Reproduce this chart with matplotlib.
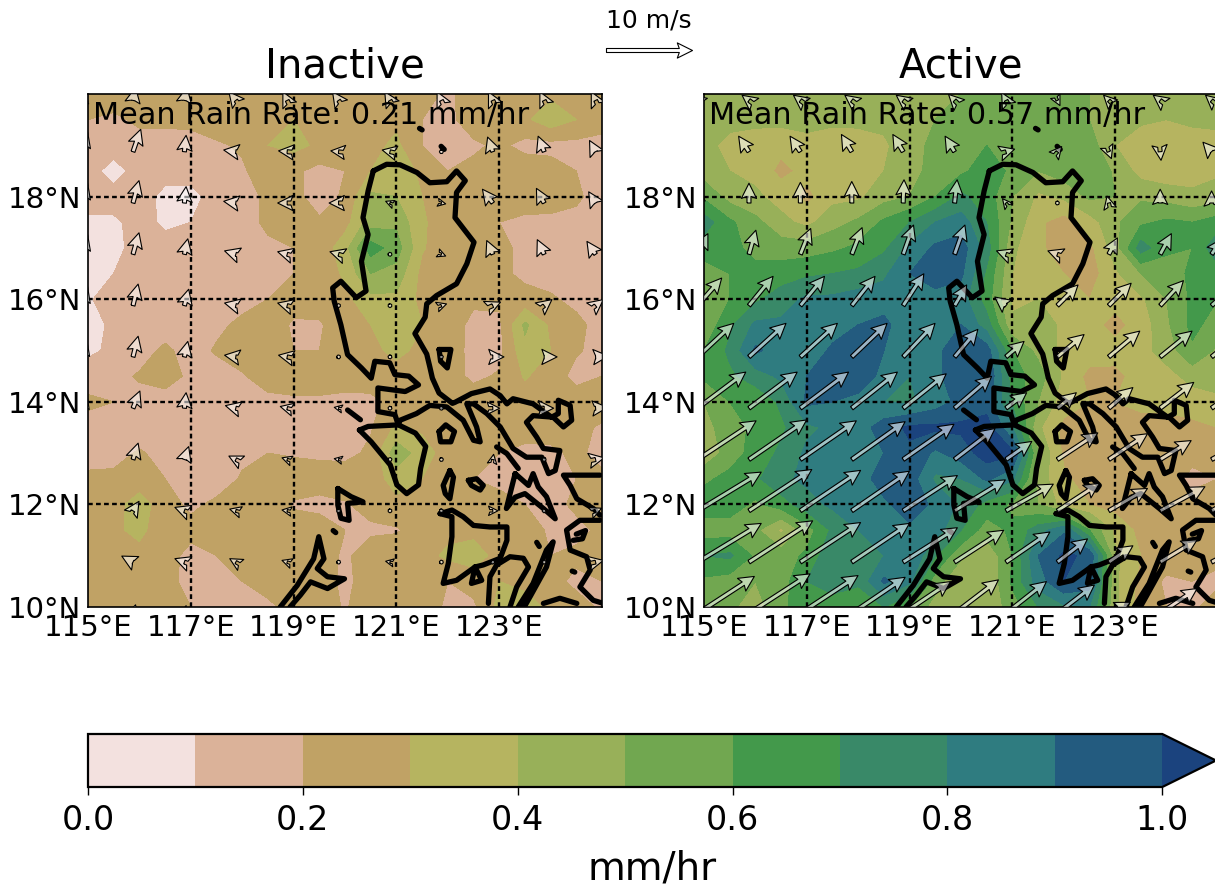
import numpy as np
import matplotlib
matplotlib.use("Agg")
import matplotlib.pyplot as plt

W, H = 1215, 888
lon_r = np.arange(115, 125.01, 0.5)
lat_r = np.arange(20, 9.99, -0.5)
levels = np.arange(0, 1.01, 0.1)
colors = ['#F3E1DF', '#DBB299', '#C0A265', '#B6B460', '#98B059', '#71A750',
          '#43994B', '#398968', '#2F7C80', '#235B7F', '#1B437E']

inactive = [
 [.22,.25,.25,.25,.25,.25,.25,.25,.25,.25,.25,.25,.25,.24,.18,.25,.25,.25,.28,.26,.25],
 [.2,.18,.22,.22,.22,.24,.26,.28,.3,.27,.25,.27,.28,.2,.17,.26,.27,.28,.36,.3,.25],
 [.17,.16,.16,.16,.17,.19,.21,.3,.33,.28,.24,.27,.32,.2,.15,.18,.22,.17,.17,.17,.16],
 [.15,.05,.15,.14,.15,.15,.19,.24,.22,.17,.2,.3,.38,.27,.2,.23,.25,.26,.24,.2,.17],
 [.15,.15,.15,.07,.06,.15,.16,.22,.22,.17,.21,.42,.4,.3,.2,.22,.25,.29,.3,.23,.12],
 [.08,.08,.14,.08,.1,.15,.16,.22,.25,.21,.26,.45,.48,.31,.26,.25,.2,.16,.15,.15,.1],
 [.07,.07,.14,.14,.15,.15,.16,.18,.2,.23,.36,.65,.55,.31,.24,.25,.22,.18,.15,.15,.15],
 [.08,.1,.15,.15,.15,.15,.16,.18,.2,.22,.32,.5,.46,.27,.24,.23,.22,.18,.17,.16,.15],
 [.09,.14,.15,.15,.15,.16,.17,.2,.23,.24,.27,.37,.38,.27,.24,.22,.22,.23,.21,.18,.15],
 [.08,.11,.15,.15,.17,.18,.22,.24,.19,.19,.25,.3,.36,.3,.26,.17,.18,.42,.28,.22,.17],
 [.08,.12,.16,.22,.16,.21,.25,.27,.2,.2,.25,.27,.33,.27,.25,.17,.17,.37,.3,.21,.17],
 [.15,.17,.21,.24,.18,.16,.19,.25,.26,.26,.25,.24,.25,.26,.24,.18,.21,.31,.25,.17,.2],
 [.22,.2,.17,.16,.15,.15,.15,.17,.18,.18,.17,.18,.23,.24,.25,.25,.25,.25,.25,.25,.24],
 [.16,.15,.15,.15,.12,.15,.15,.15,.15,.15,.15,.19,.32,.28,.25,.25,.25,.25,.24,.22,.19],
 [.16,.17,.21,.17,.15,.15,.18,.2,.19,.18,.17,.22,.46,.35,.25,.24,.2,.17,.18,.22,.17],
 [.22,.22,.24,.2,.15,.15,.21,.25,.25,.25,.26,.24,.35,.3,.25,.2,.17,.15,.15,.2,.22],
 [.2,.26,.35,.24,.18,.22,.25,.26,.19,.17,.19,.24,.27,.25,.23,.25,.24,.2,.15,.23,.3],
 [.2,.27,.34,.2,.23,.26,.27,.24,.24,.25,.2,.18,.19,.24,.27,.27,.26,.26,.18,.16,.23],
 [.24,.28,.25,.24,.17,.2,.28,.26,.25,.26,.18,.26,.26,.26,.32,.35,.26,.26,.2,.23,.26],
 [.25,.25,.26,.25,.15,.16,.2,.26,.22,.26,.17,.26,.26,.25,.2,.24,.3,.26,.24,.17,.2],
 [.25,.25,.26,.25,.2,.16,.16,.17,.25,.25,.19,.26,.3,.26,.18,.18,.33,.36,.27,.25,.18],
]
active = [
 [.45,.44,.45,.45,.45,.47,.46,.45,.46,.5,.5,.5,.53,.55,.55,.5,.46,.46,.48,.46,.42],
 [.44,.42,.42,.43,.44,.42,.42,.43,.44,.5,.55,.58,.57,.55,.52,.5,.46,.42,.4,.42,.42],
 [.42,.38,.36,.33,.36,.35,.36,.38,.47,.52,.56,.6,.55,.56,.58,.55,.4,.33,.32,.35,.37],
 [.45,.4,.37,.27,.33,.37,.37,.4,.47,.53,.58,.65,.58,.5,.55,.6,.48,.36,.33,.36,.38],
 [.58,.46,.42,.36,.27,.37,.38,.46,.5,.6,.72,.65,.5,.38,.42,.52,.5,.48,.46,.42,.45],
 [.75,.62,.53,.43,.37,.46,.52,.62,.7,.8,.85,.7,.48,.32,.25,.35,.48,.58,.62,.6,.65],
 [.65,.62,.58,.55,.55,.58,.62,.68,.82,.92,.95,.75,.42,.32,.25,.27,.45,.75,.62,.6,.78],
 [.55,.6,.62,.65,.68,.7,.72,.78,.9,.97,.92,.68,.4,.33,.3,.25,.38,.5,.55,.62,.65],
 [.55,.6,.68,.75,.82,.82,.85,.85,.85,.85,.85,.65,.38,.4,.35,.3,.33,.38,.5,.62,.6],
 [.52,.68,.82,.82,.82,.85,.9,.93,.82,.82,.9,.75,.42,.45,.38,.33,.27,.34,.48,.63,.55],
 [.6,.72,.92,.85,.83,.92,.93,.9,.8,.88,.95,.95,.6,.47,.37,.35,.33,.36,.45,.58,.48],
 [.62,.68,.75,.82,.9,.98,1.0,.85,.8,.87,.98,1.0,.65,.55,.38,.27,.28,.33,.36,.44,.44],
 [.5,.6,.62,.72,.92,.9,.85,.8,.78,.85,.93,.95,.68,.5,.35,.3,.3,.32,.33,.34,.38],
 [.46,.56,.62,.68,.78,.82,.85,.95,1.02,1.02,1.02,1.05,.8,.42,.27,.25,.25,.27,.26,.28,.3],
 [.42,.55,.64,.72,.82,.85,.83,.9,.98,.88,.95,1.05,1.02,.5,.28,.25,.26,.27,.26,.25,.25],
 [.58,.63,.68,.78,.82,.85,.85,.95,.95,.78,.8,.92,.82,.45,.32,.25,.26,.27,.26,.16,.2],
 [.65,.65,.58,.65,.76,.82,.85,.88,.95,.88,.78,.66,.58,.5,.36,.3,.26,.25,.25,.25,.25],
 [.55,.55,.52,.38,.55,.72,.8,.82,.88,.85,.7,.55,.62,.75,.88,.6,.37,.27,.25,.26,.25],
 [.7,.72,.58,.55,.62,.78,.72,.8,.9,.7,.52,.42,.6,.9,1.02,.98,.42,.3,.26,.25,.22],
 [.58,.55,.5,.55,.7,.75,.72,.92,.82,.55,.4,.4,.62,.85,1.0,.95,.42,.27,.18,.2,.18],
 [.6,.52,.45,.58,.65,.65,.62,.7,.6,.45,.42,.42,.55,.7,.78,.8,.42,.25,.2,.18,.25],
]

lon_w = np.arange(114.875, 124.9, 1.0)
lat_w = np.arange(19.875, 9.8, -1.0)
u_inactive = [
 [.3,.3,.3,-.8,-.5,-.7,-.6,-.5,-.5,-.5,-.5],
 [.7,.9,.2,-1.4,-1,-.9,-.9,.2,-.6,-.7,-.7],
 [.7,.7,.2,-1.4,-1.1,-1.1,-.5,.5,-1.2,-.9,-.8],
 [.7,.7,.4,-1.3,-1.1,-1,-.3,.5,-.7,-.8,-1],
 [.7,.6,.5,-1.3,-1.1,-.2,0,.6,.9,.9,.9],
 [.6,.6,.4,-1.3,-1,-.4,.1,.1,1.3,1.5,1.5],
 [.6,.8,.2,-1.2,-.8,-.5,.1,.1,.8,1.1,1.4],
 [.5,.6,.5,-.8,-.6,-.5,-.1,.1,.1,.1,1],
 [.3,.7,-1.1,-.7,-.6,0,0,0,.6,.3,.7],
 [0,-1.3,-1.1,-.7,-.6,-.4,-.5,-.3,0,-.2,.9],
 [0,.3,.2,.1,0,0,0,0,0,0,.2],
]
v_inactive = [
 [1.5,1.5,1.5,1,1,1,1,1,1,1,1],
 [2.3,2.6,1.9,.2,.1,.1,.2,.4,1.7,1.8,1.3],
 [2.3,2.6,1.9,.2,0,0,.2,-.1,1.6,1.7,1.3],
 [2.3,2.5,1.8,.4,.3,.3,.1,-.2,1.6,1.7,1.5],
 [2.2,2.5,1.9,.3,.3,.1,.1,.2,.4,.7,.7],
 [2,2.4,1.8,.2,.2,.1,.1,.3,0,0,.1],
 [1.8,2,1.8,.3,.2,.1,.1,.1,0,0,.1],
 [1.2,1.9,1.5,.4,.2,.1,.1,.3,.6,.1,.2],
 [.8,1.1,.4,.2,.1,.1,.05,.1,0,.1,.3],
 [.5,.7,.4,.4,.2,.1,.1,.1,.1,.2,.2],
 [.5,1,.9,.5,.2,.1,.1,.1,.1,.1,.2],
]
u_active = [
 [-.8,-.8,-.8,-.8,-.8,-.7,-.5,.3,-.6,-.8,-.7],
 [-1.2,-1.2,-1.2,-1.2,-1.2,-1.1,1,.5,.3,.1,-1],
 [0,0,0,0,.1,.3,-.4,.1,-.2,0,0],
 [1.2,.8,1.2,1.2,1.2,1.2,-1.1,-1.1,1,1.3,1.2],
 [2.8,2.8,2.8,2.7,2.4,1.4,-1.3,2.4,2.6,2.7,2.5],
 [4.2,4.3,4.3,4.1,3.7,2.7,2.1,3.1,3.6,3.7,3.2],
 [5.6,5.6,5.6,5.3,5,4.3,2.4,2.2,2.8,3.9,3.5],
 [6.8,6.7,6.5,6.2,5.9,4.7,3,4.7,4.5,3.6,3],
 [7.4,7.3,7,6.7,6.3,5.9,5.5,4.9,4.5,5.2,4.5],
 [7.4,7.4,7,6.7,6.3,5.7,5.1,3.5,2.8,4.3,3.9],
 [6.6,7.1,6.7,6.2,5.5,5.1,4.7,4.3,2.5,4.3,4],
]
v_active = [
 [.6,.6,.6,.6,.6,.7,.9,-.6,.6,.6,.6],
 [1.8,1.8,1.8,2,2,1.8,.3,.6,-.8,-1,1.1],
 [2,2.3,2.4,2.5,2.7,2.7,.5,.4,.8,1.6,1.4],
 [2.4,2.8,3,3.1,3.4,3.4,.4,.4,1.9,2.4,1.8],
 [3.2,3.4,3.4,3.4,3.7,2.4,1,2.4,2.6,2.9,2.2],
 [3.9,3.9,3.9,3.9,3.9,3.2,1.8,2.6,3,3,2.6],
 [4.2,4.2,4.2,4.2,4,3.7,1.8,1.8,2.4,3,2.5],
 [4.5,4.6,4.5,4.4,4.1,3.6,2.1,3.1,3,2.2,1.6],
 [4.5,4.8,4.7,4.6,4.1,3.6,3.1,3.2,2.6,2.8,2.5],
 [4.5,4.8,4.6,4.5,4,3.7,3.5,2.7,1.9,2.6,2],
 [4.3,4.6,4.4,4.2,3.7,3.9,3.7,3.3,1.3,2.9,2],
]

luzon_lon = [120.55,120.81,121.07,121.40,121.65,121.98,122.17,122.34,122.17,122.14,122.34,122.51,122.37,122.17,121.78,121.59,121.56,121.36,121.59,121.65,121.70,121.83,122.09,122.14,122.46,122.82,123.02,123.15,123.27,123.66,124.02,124.15,124.15,124.38,124.41,124.25,124.05,123.66,123.53,123.73,123.86,124.18,124.09,123.96,123.83,123.53,123.27,123.02,122.76,122.50,122.37,122.56,122.63,122.50,122.30,121.98,121.65,121.39,121.07,121.04,120.97,120.64,120.64,121.17,121.43,121.24,120.97,120.87,120.58,120.51,120.32,120.05,119.92,119.79,119.76,119.92,120.22,120.41,120.32,120.45,120.35,120.45,120.55]
luzon_lat = [18.50,18.63,18.62,18.47,18.27,18.29,18.50,18.31,18.08,17.59,17.33,17.11,16.69,16.30,16.07,15.91,15.65,15.33,14.93,14.68,14.46,14.17,13.97,13.99,14.16,14.25,14.12,13.96,14.06,13.96,13.70,13.77,14.03,13.93,13.64,13.51,13.70,13.73,13.60,13.31,13.09,13.05,12.66,12.60,12.92,12.92,13.09,13.51,13.77,13.96,13.96,13.51,13.22,13.25,13.64,13.90,13.93,13.77,13.64,13.55,13.75,13.81,14.27,14.20,14.33,14.50,14.53,14.76,14.79,14.46,14.66,14.92,15.50,15.96,16.22,16.35,16.03,16.16,16.74,17.26,17.59,18.11,18.50]
islands = [
 ([120.28,120.45,121.04,121.37,121.57,121.47,121.43,121.20,121.01,120.88,120.51,120.28],
  [13.45,13.52,13.55,13.39,13.13,12.70,12.38,12.21,12.38,12.77,13.22,13.45]),
 ([120.05,120.30],[13.84,13.65]),
 ([121.83,121.96,122.13,122.06,121.86,121.83],[13.42,13.55,13.42,13.22,13.22,13.42]),
 ([122.04,122.11,122.04,121.95,121.91,122.04],[12.66,12.53,12.11,12.21,12.37,12.66]),
 ([122.40,122.56,122.69,122.63,122.46,122.40],[12.47,12.50,12.37,12.28,12.37,12.47]),
 ([122.95,123.15,123.37],[13.12,12.99,12.70]),
 ([123.31,123.57,123.66,123.76,123.92,124.09,123.86,123.50,123.31,123.14,123.31],
  [12.60,12.37,12.60,12.34,12.15,11.72,11.92,12.21,12.14,11.92,12.60]),
 ([121.85,122.08,122.08,122.01,121.91,122.17,122.53,122.69,123.02,123.15,123.15,122.82,122.50,122.30,122.08,121.85],
  [11.82,11.76,11.37,10.85,10.46,10.52,10.78,10.82,10.95,11.30,11.56,11.56,11.59,11.76,11.89,11.82]),
 ([122.53,122.46,122.66,122.53],[10.78,10.46,10.52,10.78]),
 ([122.79,122.82,122.95,123.21,123.47,123.57,123.34,123.21],[10.07,10.59,10.82,10.98,10.95,10.78,10.39,10.0]),
 ([123.37,123.66,123.92,124.05,123.92,123.60,123.47],[10.0,10.46,11.11,11.27,10.78,10.20,9.97]),
 ([123.73,123.78],[11.26,11.18]),
 ([124.42,124.47],[10.70,10.68]),
 ([124.96,124.25,124.38,124.51,124.83,124.96],[12.57,12.57,12.37,12.11,11.92,11.79]),
 ([124.96,124.57,124.31,124.38,124.70,124.77,124.57,124.83,125.03],[11.69,11.69,11.50,11.11,10.98,10.72,10.39,10.13,10.07]),
 ([124.50,124.68,124.62,124.44],[11.42,11.49,11.33,11.30]),
 ([123.86,124.18,124.51],[10.07,10.17,10.07]),
 ([119.86,120.12,120.35,120.05,120.08,119.92,119.86,119.86],[12.31,12.15,12.05,12.02,11.69,11.73,11.99,12.31]),
 ([119.77,119.82],[11.49,11.45]),
 ([118.74,119.07,119.39,119.49,119.59,119.46,119.66,119.99,119.66,119.33,119.13,118.93],
  [10.0,10.42,10.94,11.37,10.94,10.75,10.59,10.55,10.36,10.49,10.23,10.0]),
 ([121.45,121.50],[19.33,19.30]),
 ([121.87,121.93],[18.98,18.92]),
 ([121.83,122.06,121.99,121.86,121.83],[15.02,15.02,14.66,14.79,15.02]),
]

panels = [
 ("Inactive", "Mean Rain Rate: 0.21 mm/hr", inactive, u_inactive, v_inactive, 88),
 ("Active", "Mean Rain Rate: 0.57 mm/hr", active, u_active, v_active, 704),
]
xt = [115, 117, 119, 121, 123]
yt = [10, 12, 14, 16, 18]
gx = [117, 119, 121, 123]
gy = [12, 14, 16, 18]

fig = plt.figure(figsize=(W/100, H/100), dpi=100)


def rect(x0, y0, x1, y1):
    return [x0/W, 1-y1/H, (x1-x0)/W, (y1-y0)/H]


q0 = None
for title, note, rain, u, v, left in panels:
    ax = fig.add_axes(rect(left, 94, left+514, 607))
    cf = ax.contourf(lon_r, lat_r, np.array(rain), levels=levels, colors=colors, extend='max')
    ax.plot(luzon_lon, luzon_lat, color='k', lw=3.8, solid_joinstyle='round', solid_capstyle='round')
    for xs, ys in islands:
        ax.plot(xs, ys, color='k', lw=3.8, solid_joinstyle='round', solid_capstyle='round')
    for g in gx:
        ax.axvline(g, color='k', lw=1.7, ls=(0, (2.0, 1.4)))
    for g in gy:
        ax.axhline(g, color='k', lw=1.7, ls=(0, (2.0, 1.4)))
    q = ax.quiver(lon_w, lat_w, np.array(u), np.array(v), angles='uv', pivot='tail',
                  units='dots', width=4, scale_units='inches', scale=10/0.86,
                  headwidth=3.8, headlength=3.8, headaxislength=3.3, minshaft=0.55,
                  facecolor=(1, 1, 1, 0.55), edgecolor='k', linewidth=0.8, zorder=5)
    if q0 is None:
        q0 = q
    ax.set_xlim(115, 125)
    ax.set_ylim(10, 20)
    ax.set_xticks(xt, [f"{t}°E" for t in xt])
    ax.set_yticks(yt, [f"{t}°N" for t in yt])
    ax.tick_params(length=0, labelsize=21, pad=5)
    for s in ax.spines.values():
        s.set_linewidth(1.2)
    ax.set_title(title, fontsize=29, pad=12)
    ax.text(0.01, 0.9415, note, transform=ax.transAxes, fontsize=21.8, va='baseline', zorder=6)

ax0 = fig.axes[0]
ax0.quiverkey(q0, 649/W, 1-50/H, 10, "10 m/s", coordinates='figure', labelpos='N',
              labelsep=0.175, fontproperties={'size': 18})

cax = fig.add_axes(rect(88, 734, 1216, 787))
cb = fig.colorbar(cf, cax=cax, orientation='horizontal', ticks=np.arange(0, 1.01, 0.2))
cb.ax.tick_params(labelsize=24, length=6, width=1, pad=6.5)
cb.outline.set_linewidth(1.6)
fig.text(652/W, 1-879/H, "mm/hr", fontsize=28, ha='center', va='baseline')

fig.savefig("out.png", dpi=100)
